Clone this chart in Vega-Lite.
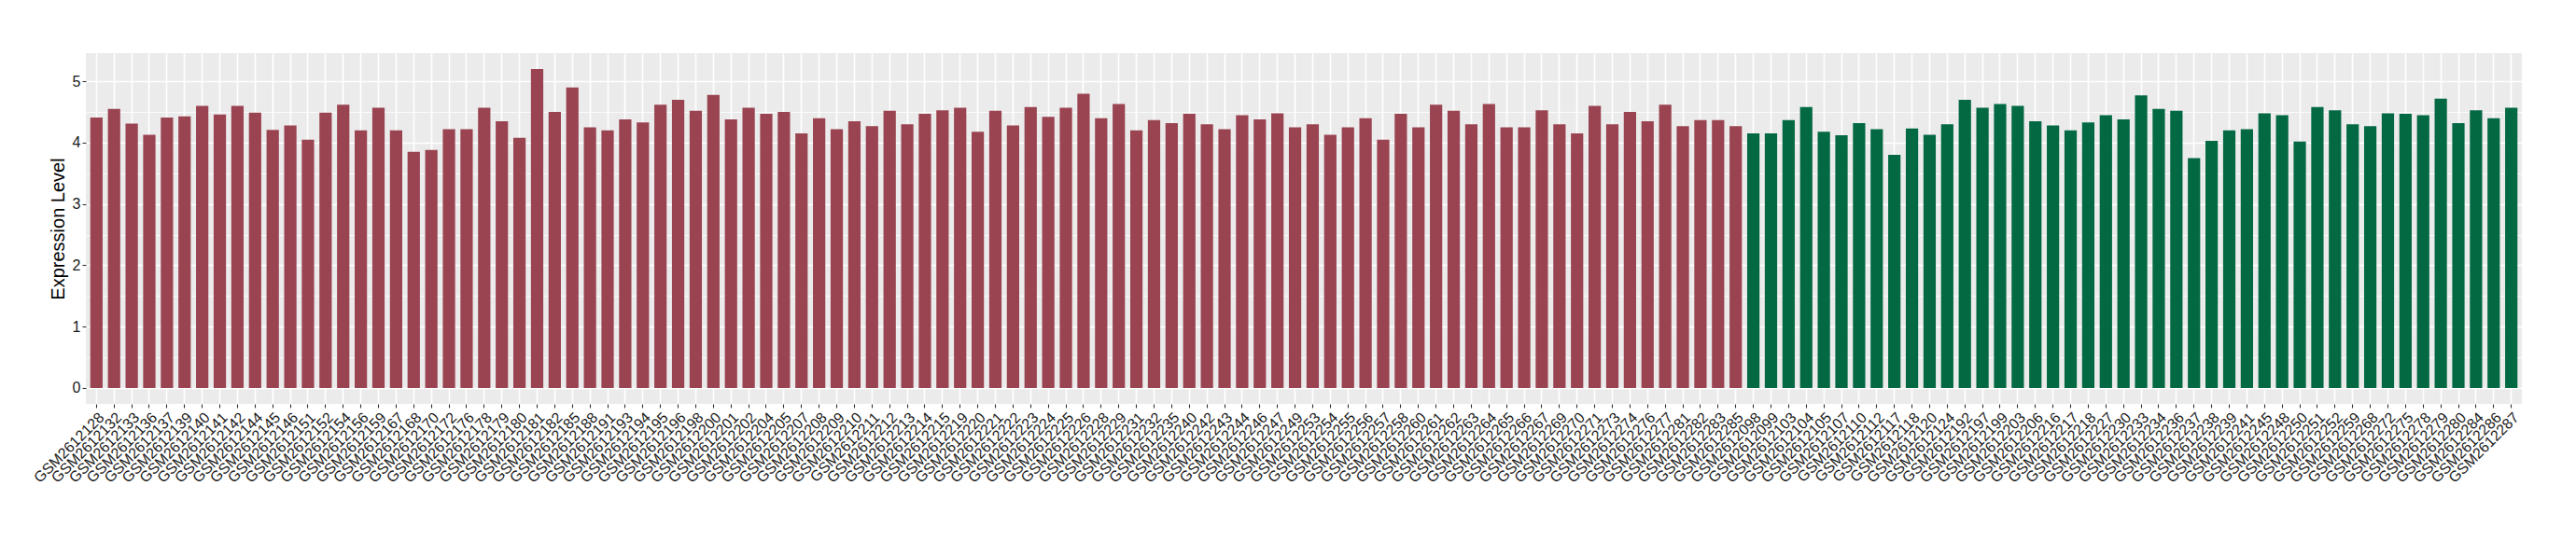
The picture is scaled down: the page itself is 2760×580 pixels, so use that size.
{
  "$schema": "https://vega.github.io/schema/vega-lite/v6.json",
  "width": 2610,
  "height": 376,
  "autosize": {"type": "none"},
  "padding": {"left": 92, "top": 57, "right": 58, "bottom": 147},
  "background": "white",
  "config": {
    "view": {"fill": "#EBEBEB", "stroke": null},
    "font": "Liberation Sans"
  },
  "data": {
    "values": [
      {"sample": "GSM2612128", "value": 4.41, "group": "A"},
      {"sample": "GSM2612132", "value": 4.55, "group": "A"},
      {"sample": "GSM2612133", "value": 4.31, "group": "A"},
      {"sample": "GSM2612136", "value": 4.13, "group": "A"},
      {"sample": "GSM2612137", "value": 4.41, "group": "A"},
      {"sample": "GSM2612139", "value": 4.43, "group": "A"},
      {"sample": "GSM2612140", "value": 4.60, "group": "A"},
      {"sample": "GSM2612141", "value": 4.46, "group": "A"},
      {"sample": "GSM2612142", "value": 4.60, "group": "A"},
      {"sample": "GSM2612144", "value": 4.49, "group": "A"},
      {"sample": "GSM2612145", "value": 4.21, "group": "A"},
      {"sample": "GSM2612146", "value": 4.28, "group": "A"},
      {"sample": "GSM2612151", "value": 4.05, "group": "A"},
      {"sample": "GSM2612152", "value": 4.49, "group": "A"},
      {"sample": "GSM2612154", "value": 4.62, "group": "A"},
      {"sample": "GSM2612156", "value": 4.20, "group": "A"},
      {"sample": "GSM2612159", "value": 4.57, "group": "A"},
      {"sample": "GSM2612167", "value": 4.20, "group": "A"},
      {"sample": "GSM2612168", "value": 3.85, "group": "A"},
      {"sample": "GSM2612170", "value": 3.88, "group": "A"},
      {"sample": "GSM2612172", "value": 4.22, "group": "A"},
      {"sample": "GSM2612176", "value": 4.22, "group": "A"},
      {"sample": "GSM2612178", "value": 4.57, "group": "A"},
      {"sample": "GSM2612179", "value": 4.35, "group": "A"},
      {"sample": "GSM2612180", "value": 4.08, "group": "A"},
      {"sample": "GSM2612181", "value": 5.20, "group": "A"},
      {"sample": "GSM2612182", "value": 4.50, "group": "A"},
      {"sample": "GSM2612185", "value": 4.90, "group": "A"},
      {"sample": "GSM2612188", "value": 4.25, "group": "A"},
      {"sample": "GSM2612191", "value": 4.20, "group": "A"},
      {"sample": "GSM2612193", "value": 4.38, "group": "A"},
      {"sample": "GSM2612194", "value": 4.33, "group": "A"},
      {"sample": "GSM2612195", "value": 4.62, "group": "A"},
      {"sample": "GSM2612196", "value": 4.70, "group": "A"},
      {"sample": "GSM2612198", "value": 4.52, "group": "A"},
      {"sample": "GSM2612200", "value": 4.78, "group": "A"},
      {"sample": "GSM2612201", "value": 4.38, "group": "A"},
      {"sample": "GSM2612202", "value": 4.57, "group": "A"},
      {"sample": "GSM2612204", "value": 4.47, "group": "A"},
      {"sample": "GSM2612205", "value": 4.50, "group": "A"},
      {"sample": "GSM2612207", "value": 4.15, "group": "A"},
      {"sample": "GSM2612208", "value": 4.40, "group": "A"},
      {"sample": "GSM2612209", "value": 4.22, "group": "A"},
      {"sample": "GSM2612210", "value": 4.35, "group": "A"},
      {"sample": "GSM2612211", "value": 4.27, "group": "A"},
      {"sample": "GSM2612212", "value": 4.52, "group": "A"},
      {"sample": "GSM2612213", "value": 4.30, "group": "A"},
      {"sample": "GSM2612214", "value": 4.47, "group": "A"},
      {"sample": "GSM2612215", "value": 4.53, "group": "A"},
      {"sample": "GSM2612219", "value": 4.57, "group": "A"},
      {"sample": "GSM2612220", "value": 4.18, "group": "A"},
      {"sample": "GSM2612221", "value": 4.52, "group": "A"},
      {"sample": "GSM2612222", "value": 4.28, "group": "A"},
      {"sample": "GSM2612223", "value": 4.58, "group": "A"},
      {"sample": "GSM2612224", "value": 4.42, "group": "A"},
      {"sample": "GSM2612225", "value": 4.57, "group": "A"},
      {"sample": "GSM2612226", "value": 4.80, "group": "A"},
      {"sample": "GSM2612228", "value": 4.40, "group": "A"},
      {"sample": "GSM2612229", "value": 4.63, "group": "A"},
      {"sample": "GSM2612231", "value": 4.20, "group": "A"},
      {"sample": "GSM2612232", "value": 4.37, "group": "A"},
      {"sample": "GSM2612235", "value": 4.32, "group": "A"},
      {"sample": "GSM2612240", "value": 4.47, "group": "A"},
      {"sample": "GSM2612242", "value": 4.30, "group": "A"},
      {"sample": "GSM2612243", "value": 4.22, "group": "A"},
      {"sample": "GSM2612244", "value": 4.45, "group": "A"},
      {"sample": "GSM2612246", "value": 4.38, "group": "A"},
      {"sample": "GSM2612247", "value": 4.48, "group": "A"},
      {"sample": "GSM2612249", "value": 4.25, "group": "A"},
      {"sample": "GSM2612253", "value": 4.30, "group": "A"},
      {"sample": "GSM2612254", "value": 4.13, "group": "A"},
      {"sample": "GSM2612255", "value": 4.25, "group": "A"},
      {"sample": "GSM2612256", "value": 4.40, "group": "A"},
      {"sample": "GSM2612257", "value": 4.05, "group": "A"},
      {"sample": "GSM2612258", "value": 4.47, "group": "A"},
      {"sample": "GSM2612260", "value": 4.25, "group": "A"},
      {"sample": "GSM2612261", "value": 4.62, "group": "A"},
      {"sample": "GSM2612262", "value": 4.52, "group": "A"},
      {"sample": "GSM2612263", "value": 4.30, "group": "A"},
      {"sample": "GSM2612264", "value": 4.63, "group": "A"},
      {"sample": "GSM2612265", "value": 4.25, "group": "A"},
      {"sample": "GSM2612266", "value": 4.25, "group": "A"},
      {"sample": "GSM2612267", "value": 4.53, "group": "A"},
      {"sample": "GSM2612269", "value": 4.30, "group": "A"},
      {"sample": "GSM2612270", "value": 4.15, "group": "A"},
      {"sample": "GSM2612271", "value": 4.60, "group": "A"},
      {"sample": "GSM2612273", "value": 4.30, "group": "A"},
      {"sample": "GSM2612274", "value": 4.50, "group": "A"},
      {"sample": "GSM2612276", "value": 4.35, "group": "A"},
      {"sample": "GSM2612277", "value": 4.62, "group": "A"},
      {"sample": "GSM2612281", "value": 4.27, "group": "A"},
      {"sample": "GSM2612282", "value": 4.37, "group": "A"},
      {"sample": "GSM2612283", "value": 4.37, "group": "A"},
      {"sample": "GSM2612285", "value": 4.27, "group": "A"},
      {"sample": "GSM2612098", "value": 4.15, "group": "B"},
      {"sample": "GSM2612099", "value": 4.15, "group": "B"},
      {"sample": "GSM2612103", "value": 4.37, "group": "B"},
      {"sample": "GSM2612104", "value": 4.58, "group": "B"},
      {"sample": "GSM2612105", "value": 4.18, "group": "B"},
      {"sample": "GSM2612107", "value": 4.12, "group": "B"},
      {"sample": "GSM2612110", "value": 4.32, "group": "B"},
      {"sample": "GSM2612112", "value": 4.22, "group": "B"},
      {"sample": "GSM2612117", "value": 3.80, "group": "B"},
      {"sample": "GSM2612118", "value": 4.23, "group": "B"},
      {"sample": "GSM2612120", "value": 4.13, "group": "B"},
      {"sample": "GSM2612124", "value": 4.30, "group": "B"},
      {"sample": "GSM2612192", "value": 4.70, "group": "B"},
      {"sample": "GSM2612197", "value": 4.57, "group": "B"},
      {"sample": "GSM2612199", "value": 4.63, "group": "B"},
      {"sample": "GSM2612203", "value": 4.60, "group": "B"},
      {"sample": "GSM2612206", "value": 4.35, "group": "B"},
      {"sample": "GSM2612216", "value": 4.28, "group": "B"},
      {"sample": "GSM2612217", "value": 4.20, "group": "B"},
      {"sample": "GSM2612218", "value": 4.33, "group": "B"},
      {"sample": "GSM2612227", "value": 4.45, "group": "B"},
      {"sample": "GSM2612230", "value": 4.38, "group": "B"},
      {"sample": "GSM2612233", "value": 4.77, "group": "B"},
      {"sample": "GSM2612234", "value": 4.55, "group": "B"},
      {"sample": "GSM2612236", "value": 4.52, "group": "B"},
      {"sample": "GSM2612237", "value": 3.75, "group": "B"},
      {"sample": "GSM2612238", "value": 4.03, "group": "B"},
      {"sample": "GSM2612239", "value": 4.20, "group": "B"},
      {"sample": "GSM2612241", "value": 4.22, "group": "B"},
      {"sample": "GSM2612245", "value": 4.48, "group": "B"},
      {"sample": "GSM2612248", "value": 4.45, "group": "B"},
      {"sample": "GSM2612250", "value": 4.02, "group": "B"},
      {"sample": "GSM2612251", "value": 4.58, "group": "B"},
      {"sample": "GSM2612252", "value": 4.53, "group": "B"},
      {"sample": "GSM2612259", "value": 4.30, "group": "B"},
      {"sample": "GSM2612268", "value": 4.27, "group": "B"},
      {"sample": "GSM2612272", "value": 4.48, "group": "B"},
      {"sample": "GSM2612275", "value": 4.47, "group": "B"},
      {"sample": "GSM2612278", "value": 4.45, "group": "B"},
      {"sample": "GSM2612279", "value": 4.72, "group": "B"},
      {"sample": "GSM2612280", "value": 4.32, "group": "B"},
      {"sample": "GSM2612284", "value": 4.53, "group": "B"},
      {"sample": "GSM2612286", "value": 4.40, "group": "B"},
      {"sample": "GSM2612287", "value": 4.57, "group": "B"}
    ]
  },
  "mark": {"type": "bar"},
  "encoding": {
    "x": {
      "field": "sample",
      "type": "nominal",
      "sort": null,
      "scale": {"paddingInner": 0.3, "paddingOuter": 0.25},
      "axis": {
        "title": null,
        "labelAngle": -45,
        "labelAlign": "right",
        "labelBaseline": "top",
        "labelFontSize": 16,
        "labelColor": "#1A1A1A",
        "labelFont": "Liberation Sans",
        "labelPadding": 2,
        "labelOverlap": false,
        "bandPosition": 0.5,
        "tickColor": "#333333",
        "tickSize": 4,
        "tickWidth": 1.1,
        "domain": false,
        "grid": true,
        "gridColor": "white",
        "gridWidth": 1.6
      }
    },
    "y": {
      "field": "value",
      "type": "quantitative",
      "scale": {"domain": [-0.26, 5.46], "nice": false, "zero": false},
      "axis": {
        "title": "Expression Level",
        "titleFont": "Liberation Sans",
        "titleFontSize": 20,
        "titleFontWeight": "normal",
        "titleColor": "black",
        "titlePadding": 5,
        "values": [0, 0.5, 1, 1.5, 2, 2.5, 3, 3.5, 4, 4.5, 5],
        "labelExpr": "datum.value % 1 === 0 ? format(datum.value, 'd') : ''",
        "labelFont": "Liberation Sans",
        "labelFontSize": 16,
        "labelColor": "#1A1A1A",
        "labelPadding": 2,
        "tickColor": "#333333",
        "tickSize": 4,
        "tickWidth": 1.1,
        "tickOpacity": {"condition": {"test": "datum.value % 1 === 0", "value": 1}, "value": 0},
        "domain": false,
        "grid": true,
        "gridColor": "white",
        "gridWidth": {"condition": {"test": "datum.value % 1 === 0", "value": 1.6}, "value": 0.8}
      }
    },
    "color": {
      "field": "group",
      "type": "nominal",
      "scale": {"domain": ["A", "B"], "range": ["#9A4452", "#036943"]},
      "legend": null
    }
  }
}
